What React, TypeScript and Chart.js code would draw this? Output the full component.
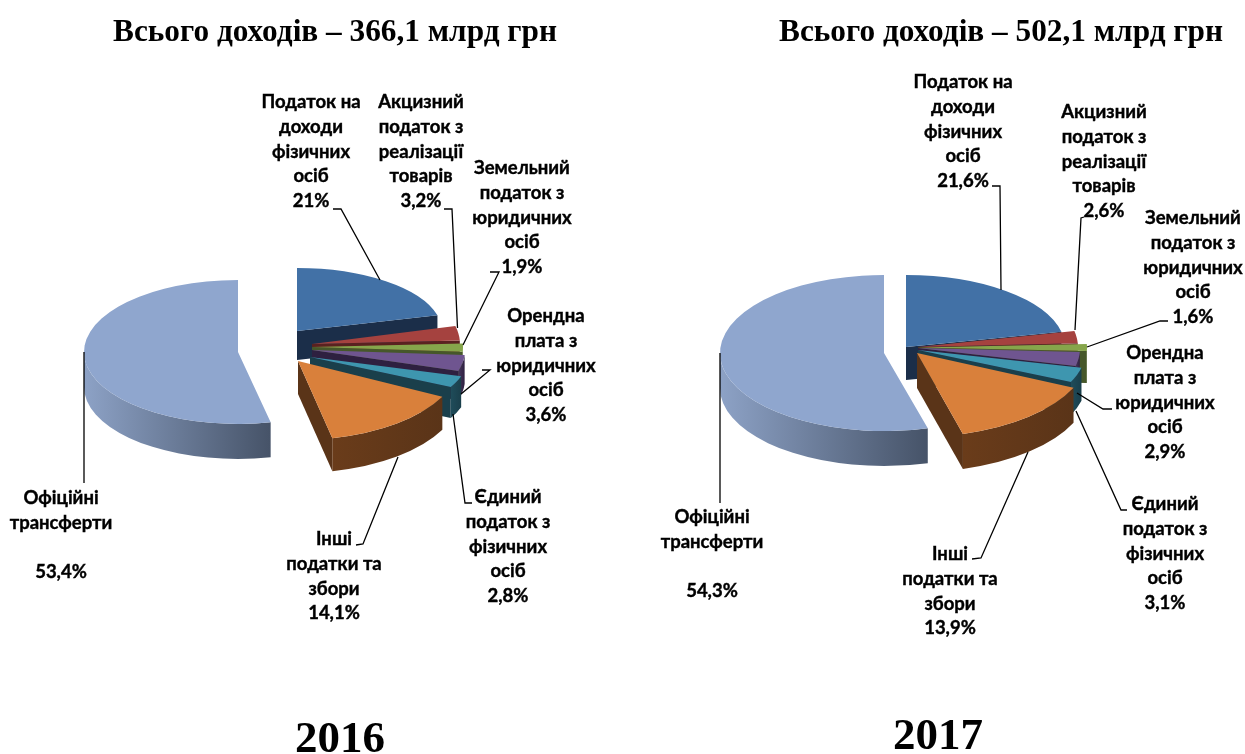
import React, { useEffect, useRef } from "react";
import { Chart, registerables } from "chart.js";

Chart.register(...registerables);

const categories = [
  ["Податок на", "доходи", "фізичних", "осіб"],
  ["Акцизний", "податок з", "реалізації", "товарів"],
  ["Земельний", "податок з", "юридичних", "осіб"],
  ["Орендна", "плата з", "юридичних", "осіб"],
  ["Єдиний", "податок з", "фізичних", "осіб"],
  ["Інші", "податки та", "збори"],
  ["Офіційні", "трансферти", ""],
];
const values2016 = [21, 3.2, 1.9, 3.6, 2.8, 14.1, 53.4];
const values2017 = [21.6, 2.6, 1.6, 2.9, 3.1, 13.9, 54.3];
const title2016 = "Всього доходів – 366,1 млрд грн";
const title2017 = "Всього доходів – 502,1 млрд грн";

const topColors = ["#4271A6", "#A5423F", "#86A54B", "#6F5590", "#3E96AF", "#D9803B", "#8FA6CE"];
const wallColors = ["#1B2E49", "#5A2120", "#46572A", "#2E2040", "#1A3F4B", "#5A3418", "#4B586C"];
const rimColors = [
  ["#2F5078", "#1B2E49"],
  ["#6E2C2A", "#5A2120"],
  ["#57682F", "#46572A"],
  ["#46355C", "#2E2040"],
  ["#1F4C5A", "#1A3F4B"],
  ["#6A3C1A", "#5A3418"],
  ["#8DA2C6", "#465368"],
];
const paintOrder = [6, 0, 1, 2, 3, 4, 5];

type Pose = [number, number, number, number, number];
// [apex x, apex y, radius x, radius y, depth] of every slice, in page pixels
const poses2016: Pose[] = [
  [297, 331, 145, 63, 29],
  [312, 344, 148, 72, 29],
  [312, 347, 151, 70, 29],
  [312, 350, 153, 72, 29],
  [310, 357, 158, 66, 31],
  [298, 361, 162, 79, 33],
  [238, 352, 154, 72, 35],
];
const poses2017: Pose[] = [
  [906, 347, 159, 72, 33],
  [918, 347, 160, 75, 33],
  [918, 347.5, 169, 70, 32],
  [918, 348, 162, 78, 33],
  [918, 350, 168, 77, 33],
  [917, 353, 172, 84, 35],
  [884, 353, 164, 78, 35],
];

// [centre x, y of the first line]
const labels2016 = [
  [311, 102], [421, 102], [522, 168], [546, 316], [508, 497], [334, 539], [61, 498],
];
const labels2017 = [
  [963, 82], [1104, 112], [1193, 218], [1165, 353], [1165, 504], [950, 554], [712, 517],
];
const leaders2016 = [
  [[380, 280], [341, 209], [333, 209]],
  [[457.5, 328], [452, 209], [444, 209]],
  [[463, 345], [499, 272], [490, 272]],
  [[461, 394], [490, 370], [482, 370]],
  [[453, 414], [465, 503], [472, 503]],
  [[398, 457], [363, 544], [356, 545]],
  [[84, 352], [84, 483]],
];
const leaders2017 = [
  [[1001, 290], [1000, 186], [992, 186]],
  [[1075, 330], [1081, 218], [1084, 217]],
  [[1087, 347], [1160, 321], [1168, 321]],
  [[1077, 393], [1103, 409], [1112, 409]],
  [[1076, 411], [1121, 510], [1127, 510]],
  [[1028, 452], [981, 558], [972, 559]],
  [[720, 353], [720, 503]],
];

const LABEL_FONT = "bold 18.5px Lato, Carlito, 'Noto Sans', sans-serif";
const LINE_HEIGHT = 24.8;

const pie3d = {
  id: "pie3d",
  beforeDatasetDraw(chart: any, _args: any, opts: any) {
    const ctx: CanvasRenderingContext2D = chart.ctx;
    const meta = chart.getDatasetMeta(0);
    ctx.save();
    ctx.translate(-opts.left, 0);
    for (const i of paintOrder) {
      const arc = meta.data[i];
      const [px, py, rx, ry, d] = opts.poses[i] as Pose;
      const a0 = arc.startAngle;
      const a1 = arc.endAngle;
      const wall = (a: number) => {
        const ex = px + rx * Math.cos(a);
        const ey = py + ry * Math.sin(a);
        ctx.beginPath();
        ctx.moveTo(px, py);
        ctx.lineTo(ex, ey);
        ctx.lineTo(ex, ey + d);
        ctx.lineTo(px, py + d);
        ctx.closePath();
        ctx.fillStyle = wallColors[i];
        ctx.fill();
      };
      if (Math.sin(a0 - Math.PI / 2) > 0.001) wall(a0);
      if (Math.sin(a1 + Math.PI / 2) > 0.001) wall(a1);
      const r0 = Math.max(a0, 0);
      const r1 = Math.min(a1, Math.PI);
      if (r0 < r1) {
        const xa = px + rx * Math.cos(r1);
        const xb = px + rx * Math.cos(r0);
        const grad = ctx.createLinearGradient(xa, 0, xb, 0);
        grad.addColorStop(0, rimColors[i][0]);
        grad.addColorStop(1, rimColors[i][1]);
        ctx.beginPath();
        ctx.ellipse(px, py, rx, ry, 0, r0, r1);
        ctx.ellipse(px, py + d, rx, ry, 0, r1, r0, true);
        ctx.closePath();
        ctx.fillStyle = grad;
        ctx.fill();
      }
      ctx.save();
      ctx.translate(px, py);
      ctx.scale(rx / arc.outerRadius, ry / arc.outerRadius);
      ctx.translate(-arc.x, -arc.y);
      arc.draw(ctx);
      ctx.restore();
    }
    ctx.restore();
    return false;
  },
  afterDraw(chart: any, _args: any, opts: any) {
    const ctx: CanvasRenderingContext2D = chart.ctx;
    const values: number[] = chart.data.datasets[0].data;
    ctx.save();
    ctx.translate(-opts.left, 0);
    ctx.strokeStyle = "#000";
    ctx.lineWidth = 1.3;
    for (const path of opts.leaders) {
      ctx.beginPath();
      path.forEach((p: number[], k: number) => (k ? ctx.lineTo(p[0], p[1]) : ctx.moveTo(p[0], p[1])));
      ctx.stroke();
    }
    ctx.fillStyle = "#000";
    ctx.textAlign = "center";
    ctx.textBaseline = "middle";
    ctx.font = LABEL_FONT;
    ctx.lineWidth = 0.4;
    categories.forEach((lines, i) => {
      const [lx, ly] = opts.labels[i];
      const all = [...lines, String(values[i]).replace(".", ",") + "%"];
      all.forEach((t, k) => {
        if (t) {
          ctx.fillText(t, lx, ly + k * LINE_HEIGHT);
          ctx.strokeText(t, lx, ly + k * LINE_HEIGHT);
        }
      });
    });
    ctx.font = "bold 45px 'Liberation Serif', serif";
    ctx.fillText(opts.year, opts.yearX, opts.yearY);
    ctx.restore();
  },
};

function makeChart(
  canvas: HTMLCanvasElement,
  values: number[],
  title: string,
  cfg: Record<string, unknown>
) {
  return new Chart(canvas, {
    type: "pie",
    data: {
      labels: categories.map((c) => c.join(" ")),
      datasets: [{ data: values, backgroundColor: topColors, borderWidth: 0 }],
    },
    options: {
      animation: false,
      responsive: false,
      maintainAspectRatio: false,
      plugins: {
        legend: { display: false },
        tooltip: { enabled: false },
        title: {
          display: true,
          text: title,
          color: "#000",
          padding: { top: 14, bottom: 10 },
          font: { family: "'Liberation Serif', serif", size: 31.3, weight: "bold" },
        },
        pie3d: cfg,
      } as any,
    },
    plugins: [pie3d as any],
  });
}

export default function App() {
  const left = useRef<HTMLCanvasElement>(null);
  const right = useRef<HTMLCanvasElement>(null);
  useEffect(() => {
    const a = makeChart(left.current!, values2016, title2016, {
      left: 0, poses: poses2016, labels: labels2016, leaders: leaders2016,
      year: "2016", yearX: 340, yearY: 740,
    });
    const b = makeChart(right.current!, values2017, title2017, {
      left: 660, poses: poses2017, labels: labels2017, leaders: leaders2017,
      year: "2017", yearX: 938, yearY: 737,
    });
    return () => {
      a.destroy();
      b.destroy();
    };
  }, []);
  return (
    <div style={{ position: "fixed", left: 0, top: 0, width: 1245, height: 754, overflow: "hidden", background: "#fff" }}>
      <canvas ref={left} width={670} height={754} style={{ position: "absolute", left: 0, top: 0 }} />
      <canvas ref={right} width={682} height={754} style={{ position: "absolute", left: 660, top: 0 }} />
    </div>
  );
}
